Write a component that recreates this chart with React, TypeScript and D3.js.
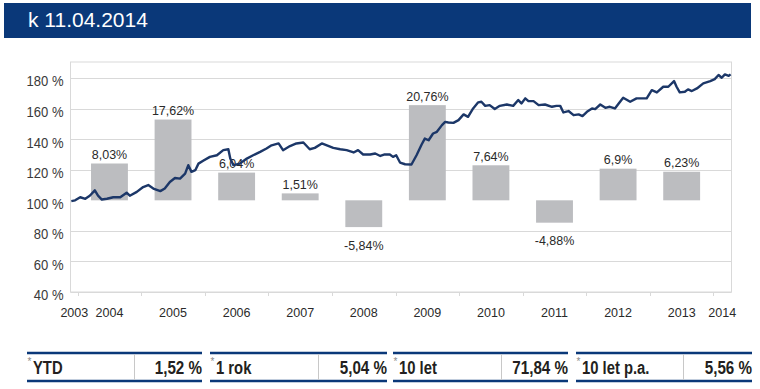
import React from "react";
import * as d3 from "d3";

// ---- data ----
const headerText = "k 11.04.2014";

// line: fund value (% of start), time as decimal year
const lineDates = [
  2003.90, 2003.96, 2004.04, 2004.12, 2004.19, 2004.27, 2004.32, 2004.38, 2004.46, 2004.56,
  2004.67, 2004.77, 2004.82, 2004.93, 2005.03, 2005.11, 2005.19, 2005.30, 2005.37, 2005.45,
  2005.53, 2005.61, 2005.69, 2005.74, 2005.79, 2005.85, 2005.90, 2005.98, 2006.08, 2006.19,
  2006.29, 2006.37, 2006.40, 2006.45, 2006.55, 2006.66, 2006.76, 2006.87, 2006.97, 2007.05,
  2007.16, 2007.23, 2007.34, 2007.44, 2007.55, 2007.65, 2007.73, 2007.84, 2007.94, 2008.02,
  2008.13, 2008.23, 2008.34, 2008.41, 2008.49, 2008.60, 2008.68, 2008.76, 2008.83, 2008.91,
  2008.96, 2009.01, 2009.07, 2009.15, 2009.25, 2009.33, 2009.41, 2009.46, 2009.52, 2009.59,
  2009.65, 2009.73, 2009.78, 2009.83, 2009.91, 2009.99, 2010.07, 2010.14, 2010.22, 2010.30,
  2010.35, 2010.41, 2010.48, 2010.56, 2010.64, 2010.75, 2010.85, 2010.93, 2010.98, 2011.04,
  2011.09, 2011.17, 2011.25, 2011.35, 2011.46, 2011.53, 2011.59, 2011.64, 2011.72, 2011.80,
  2011.88, 2011.94, 2012.01, 2012.09, 2012.14, 2012.22, 2012.30, 2012.37, 2012.45, 2012.51,
  2012.58, 2012.69, 2012.79, 2012.90, 2012.95, 2013.03, 2013.11, 2013.21, 2013.29, 2013.38,
  2013.42, 2013.47, 2013.55, 2013.60, 2013.66, 2013.74, 2013.84, 2013.95, 2014.02, 2014.08,
  2014.13, 2014.18, 2014.24, 2014.27,
];
const lineValues = [
  99.5, 100, 102, 101, 103, 106.5, 103, 100.5, 101, 102,
  102, 105, 103, 105.5, 108.7, 110, 107.7, 106, 107.7, 112,
  114.6, 114.2, 117.5, 123, 118.6, 119.7, 124, 126, 128.4, 129.5,
  132.8, 133.4, 127.3, 123, 124, 127.3, 129.5, 131.7, 133.9, 136,
  137.2, 132.8, 135.5, 137.2, 137.8, 133.4, 134.3, 137.2, 135.6, 134.3,
  133.4, 132.8, 131.3, 132.8, 130, 130, 130.6, 129, 130, 130,
  128.4, 129.5, 124.7, 123.6, 123.4, 129.5, 136.5, 140.4, 139.3, 143.7,
  144.8, 149.2, 151.3, 150.9, 150.7, 152.5, 156.2, 154.6, 160.1, 164.1,
  164.5, 161.8, 162.3, 159.7, 161.8, 162.7, 161.8, 165.6, 163.4, 166.7,
  164.9, 164.9, 162.3, 162.7, 161.2, 161.8, 161.8, 157.5, 158.4, 155.7,
  156.2, 155.1, 157.9, 160.1, 159.7, 162.7, 160.5, 161.2, 160.1, 163.4,
  167.1, 164.5, 166.7, 166.7, 166.7, 172.1, 170.6, 174.3, 174.3, 178,
  174.3, 170.6, 171, 172.6, 171.5, 173.2, 176.5, 178, 179.3, 182,
  180.2, 182.4, 181.5, 182.4,
];

// bars: yearly performance (%)
const barYears = [2004, 2005, 2006, 2007, 2008, 2009, 2010, 2011, 2012, 2013];
const barValues = [8.03, 17.62, 6.04, 1.51, -5.84, 20.76, 7.64, -4.88, 6.9, 6.23];
const barLabels = ["8,03%", "17,62%", "6,04%", "1,51%", "-5,84%", "20,76%", "7,64%", "-4,88%", "6,9%", "6,23%"];

const yTicks = [40, 60, 80, 100, 120, 140, 160, 180];
const xYearLabels = [2003, 2004, 2005, 2006, 2007, 2008, 2009, 2010, 2011, 2012, 2013, 2014];

const tableLabels = ["YTD", "1 rok", "10 let", "10 let p.a."];
const tableValues = ["1,52 %", "5,04 %", "71,84 %", "5,56 %"];

// ---- layout ----
const W = 760;
const H = 389;
const NAVY = "#0a3879";
const LINE = "#1c3768";
const GRID = "#d9d9d9";
const BAR = "#bcbdc0";
const TEXT = "#2a2a2a";
const FONT = "'Liberation Sans', Arial, sans-serif";

const plotL = 70.5;
const plotR = 731.5;
const plotT = 62;
const plotB = 292;

type STextProps = {
  x: number;
  y: number;
  sx: number;
  anchor?: "start" | "middle" | "end";
  size: number;
  fill: string;
  weight?: string;
  children: React.ReactNode;
};

function SText({ x, y, sx, anchor = "start", size, fill, weight = "normal", children }: STextProps) {
  return (
    <text
      transform={`translate(${x},${y}) scale(${sx},1)`}
      textAnchor={anchor}
      fontSize={size}
      fill={fill}
      fontWeight={weight}
    >
      {children}
    </text>
  );
}

export default function App() {
  const t0 = 2003.895;
  const t1 = 2014.276;
  const x = d3.scaleLinear().domain([t0, t1]).range([71, 731]);
  const y = d3.scaleLinear().domain([40, 190.5]).range([plotB, plotT]);
  const yBar = d3.scaleLinear().domain([-20, 30.17]).range([plotB, plotT]);
  const barBase = 100;
  const barW = x(2004.58) - x(2004);

  const pts: [number, number][] = lineDates.map((d, i) => [d, lineValues[i]]);
  const linePath = d3
    .line<[number, number]>()
    .x((d) => x(d[0]))
    .y((d) => y(d[1]))(pts);

  const tickYears = d3.range(Math.ceil(t0), Math.floor(t1) + 1);

  const cellX = [27, 210, 393, 576];
  const cellW = [175, 177, 175, 176];
  const sepOff = [107, 108, 108, 107];

  return (
    <svg
      width={W}
      height={H}
      style={{ position: "absolute", left: 0, top: 0, background: "#fff" }}
      fontFamily={FONT}
    >
      {/* header */}
      <rect x={4} y={3} width={747} height={35} fill={NAVY} />
      <text x={28} y={27} fill="#fff" fontSize={21}>
        {headerText}
      </text>

      {/* plot frame */}
      <rect x={plotL} y={plotT} width={plotR - plotL} height={plotB - plotT} fill="none" stroke={GRID} strokeWidth={1} />

      {/* gridlines + y labels */}
      {yTicks.map((v) => (
        <g key={v}>
          {v !== barBase && (
            <line x1={plotL} x2={plotR} y1={Math.round(y(v)) + 0.5} y2={Math.round(y(v)) + 0.5} stroke={GRID} strokeWidth={1} />
          )}
          <SText x={63.5} y={y(v) + 8.4} sx={0.87} anchor="end" size={15} fill="#3a3a3a">
            {`${v} %`}
          </SText>
        </g>
      ))}

      {/* x ticks */}
      {tickYears.map((yr) => (
        <line key={yr} x1={Math.round(x(yr)) + 0.5} x2={Math.round(x(yr)) + 0.5} y1={plotB} y2={plotB + 4} stroke={GRID} strokeWidth={1} />
      ))}

      {/* x labels */}
      {xYearLabels.map((yr) => {
        const a = Math.max(yr, t0);
        const b = Math.min(yr + 1, t1);
        return (
          <SText key={yr} x={x((a + b) / 2)} y={317} sx={0.93} anchor="middle" size={13.5} fill={TEXT}>
            {yr}
          </SText>
        );
      })}

      {/* bars */}
      {barYears.map((yr, i) => {
        const v = barValues[i];
        const cx = x(yr + 0.5);
        const y0 = yBar(0);
        const y1 = yBar(v);
        return (
          <rect key={yr} x={cx - barW / 2} y={Math.min(y0, y1)} width={barW} height={Math.abs(y1 - y0)} fill={BAR} />
        );
      })}

      {/* bar labels */}
      {barYears.map((yr, i) => {
        const v = barValues[i];
        const cx = x(yr + 0.5);
        const ty = v >= 0 ? yBar(v) - 4.5 : yBar(v) + 22.5;
        return (
          <SText key={yr} x={cx} y={ty} sx={0.96} anchor="middle" size={13} fill={TEXT}>
            {barLabels[i]}
          </SText>
        );
      })}

      {/* line */}
      <path d={linePath || ""} fill="none" stroke={LINE} strokeWidth={2.4} strokeLinejoin="round" />

      {/* table */}
      {tableLabels.map((lab, i) => (
        <g key={i}>
          <line x1={cellX[i]} x2={cellX[i] + cellW[i]} y1={353} y2={353} stroke={NAVY} strokeWidth={2.5} />
          <line x1={cellX[i]} x2={cellX[i] + cellW[i]} y1={381} y2={381} stroke={NAVY} strokeWidth={2.5} />
          <line x1={cellX[i] + sepOff[i] + 0.5} x2={cellX[i] + sepOff[i] + 0.5} y1={354} y2={380} stroke="#c8c8c8" strokeWidth={1} />
          <text x={cellX[i] + 0.5} y={365} fontSize={10} fill="#8a8a8a">*</text>
          <SText x={cellX[i] + 6} y={373.5} sx={0.78} size={19} weight="bold" fill="#231f20">
            {lab}
          </SText>
          <SText x={cellX[i] + cellW[i]} y={373.5} sx={0.8} anchor="end" size={19} weight="bold" fill="#231f20">
            {tableValues[i]}
          </SText>
        </g>
      ))}
    </svg>
  );
}
